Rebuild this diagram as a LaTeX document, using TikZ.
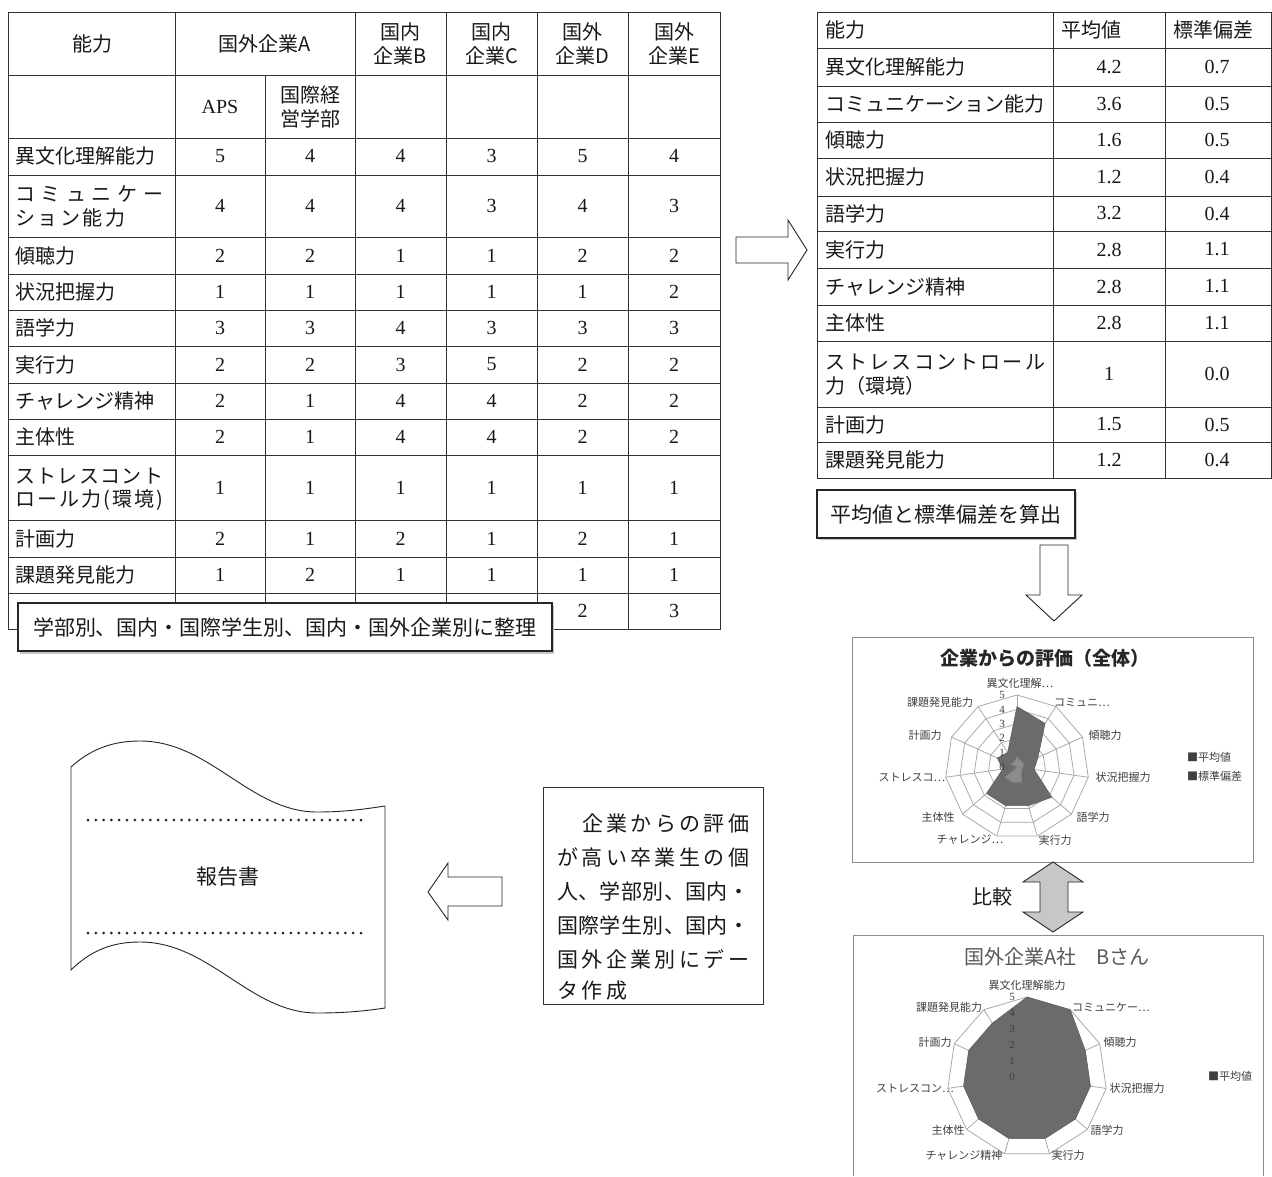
\documentclass[tikz,border=0pt]{standalone}
\usepackage{fontspec}
\setmainfont{Liberation Serif}
\newfontfamily\jp{Noto Sans CJK JP}
\def\sprnext#1{\ifx#1\relax\else\hfill#1\expandafter\sprnext\fi}
\def\sprfirst#1{#1\sprnext}
\newcommand\spreadline[2]{\makebox[#1][s]{\sprfirst#2\relax}}
\newcommand\radargrid[3]{%
  \foreach \l in {1,...,5} {\draw[rgrid] plot[samples at={0,...,10}] ({#1+\l*#3*cos(-90+\x*360/11)},{#2+\l*#3*sin(-90+\x*360/11)}) -- cycle;}
  \foreach \k in {0,...,10} {\draw[rgrid] (#1,#2) -- ({#1+5*#3*cos(-90+\k*360/11)},{#2+5*#3*sin(-90+\k*360/11)});}
}
\begin{document}
\begin{tikzpicture}[x=1pt,y=-1pt,
  tl/.style={line width=0.9pt,draw=black!80},
  jt/.style={font=\jp\fontsize{20}{24}\selectfont,inner sep=0pt,text=black!90},
  jtl/.style={font=\jp\fontsize{21}{25}\selectfont,inner sep=0pt,text=black!90},
  nt/.style={font=\fontsize{20}{24}\selectfont,inner sep=0pt,text=black!90},
  thickbox/.style={draw=black!85,line width=1.8pt,fill=white},
  boxshadow/.style={fill=black!22},
  hollowarrow/.style={draw=black!85,line width=0.9pt,fill=white,line join=miter},
  rgrid/.style={draw=black!35,line width=0.75pt},
  chartbox/.style={draw=black!45,line width=1pt},
  lab/.style={font=\jp\fontsize{11}{13}\selectfont,inner sep=0pt,text=black!75},
  sclab/.style={font=\fontsize{11}{13}\selectfont,inner sep=0pt,text=black!75},
  meanfill/.style={fill=black!58,draw=black!62,line width=0.6pt},
  sdfill/.style={fill=black!45,draw=black!50,line width=0.6pt},
  dotline/.style={line width=3pt,line cap=round,dash pattern=on 0pt off 7.8pt,draw=black!85}
]
\useasboundingbox (0,0) rectangle (1272,1176);
\fill[white] (0,0) rectangle (1272,1176);

% ---------------- left table ----------------
\draw[tl] (8,12) rectangle (720,629);
\foreach \yy in {75,138,175,237,274,310,346,383,419,455,520,557,593} \draw[tl] (8,\yy) -- (720,\yy);
\draw[tl] (175,12) -- (175,629);
\draw[tl] (265,75) -- (265,629);
\foreach \xx in {355,446,537,628} \draw[tl] (\xx,12) -- (\xx,629);

\node[jt] (lhab) at (92,44) {能力};
\node[jt] (lhA) at (265,44) {国外企業A};
\node[jt,align=center] (lhB) at (400.5,44) {国内\\企業B};
\node[jt,align=center] (lhC) at (491.5,44) {国内\\企業C};
\node[jt,align=center] (lhD) at (582.5,44) {国外\\企業D};
\node[jt,align=center] (lhE) at (674,44) {国外\\企業E};
\node[nt] (lhaps) at (220,107) {APS};
\node[jt,align=center] (lhkk) at (310,107) {国際経\\営学部};

\foreach \yy/\lab/\a/\b/\c/\d/\e/\f in {
 156/異文化理解能力/5/4/4/3/5/4,
 255.5/傾聴力/2/2/1/1/2/2,
 292/状況把握力/1/1/1/1/1/2,
 328/語学力/3/3/4/3/3/3,
 364.5/実行力/2/2/3/5/2/2,
 401/チャレンジ精神/2/1/4/4/2/2,
 437/主体性/2/1/4/4/2/2,
 538.5/計画力/2/1/2/1/2/1,
 575/課題発見能力/1/2/1/1/1/1}
{
 \node[jt,anchor=west] at (15,\yy) {\lab};
 \foreach \v/\xx in {\a/220,\b/310,\c/400.5,\d/491.5,\e/582.5,\f/674} \node[nt] at (\xx,\yy) {\v};
}
\node[jt,anchor=west] (lcom1) at (15,194) {\spreadline{148pt}{コミュニケー}};
\node[jt,anchor=west] (lcom2) at (15,218) {\spreadline{110pt}{ション能力}};
\foreach \v/\xx in {4/220,4/310,4/400.5,3/491.5,4/582.5,3/674} \node[nt] at (\xx,206) {\v};
\node[jt,anchor=west] (lstr1) at (15,476) {\spreadline{148pt}{ストレスコント}};
\node[jt,anchor=west] (lstr2) at (15,500) {\spreadline{148pt}{ロール力(環境)}};
\foreach \xx in {220,310,400.5,491.5,582.5,674} \node[nt] at (\xx,487.5) {1};
\node[nt] (llastD) at (582.5,611) {2};
\node[nt] (llastE) at (674,611) {3};

% box over the table
\fill[boxshadow] (20,605) rectangle (554,654);
\draw[thickbox] (18,603) rectangle (552,651);
\node[jtl] (seiri) at (285,627) {学部別、国内・国際学生別、国内・国外企業別に整理};

% right arrow
\draw[hollowarrow] (736,237) -- (788,237) -- (788,220) -- (807,250) -- (788,280) -- (788,263) -- (736,263) -- cycle;

% ---------------- right table ----------------
\draw[tl] (817,12) rectangle (1271,478);
\foreach \yy in {48,86,122,158,196,231,268,305,341,407,442} \draw[tl] (817,\yy) -- (1271,\yy);
\draw[tl] (1053,12) -- (1053,478);
\draw[tl] (1165,12) -- (1165,478);
\node[jt,anchor=west] (rh1) at (825,30) {能力};
\node[jt,anchor=west] (rh2) at (1061,30) {平均値};
\node[jt,anchor=west] (rh3) at (1173,30) {標準偏差};
\foreach \yy/\lab/\a/\b in {67/異文化理解能力/4.2/0.7, 104/コミュニケーション能力/3.6/0.5, 140/傾聴力/1.6/0.5, 177/状況把握力/1.2/0.4, 213.5/語学力/3.2/0.4, 249.5/実行力/2.8/1.1, 286.5/チャレンジ精神/2.8/1.1, 323/主体性/2.8/1.1, 424.5/計画力/1.5/0.5, 460/課題発見能力/1.2/0.4}
{
 \node[jt,anchor=west] at (825,\yy) {\lab};
 \node[nt] at (1109,\yy) {\a};
 \node[nt] at (1217,\yy) {\b};
}
\node[jt,anchor=west] (rstr1) at (825,362) {\spreadline{220pt}{ストレスコントロール}};
\node[jt,anchor=west] (rstr2) at (825,386) {力（環境）};
\node[nt] at (1109,374) {1};
\node[nt] at (1217,374) {0.0};

\fill[boxshadow] (819,492) rectangle (1077,540);
\draw[thickbox] (817,490) rectangle (1075,538);
\node[jtl] (sanshutsu) at (946,514) {平均値と標準偏差を算出};

% down arrow
\draw[hollowarrow] (1040,545) -- (1068,545) -- (1068,595) -- (1082,595) -- (1054,621) -- (1026,595) -- (1040,595) -- cycle;

% ---------------- chart 1 ----------------
\draw[chartbox] (852,637) rectangle (1253,862);
\node[font=\jp\bfseries\fontsize{19}{22}\selectfont,inner sep=0pt,text=black!85] (c1title) at (1045,658) {企業からの評価（全体）};
\radargrid{1017}{767}{14.4}
\foreach \v [count=\k from 0] in {4.2,3.6,1.6,1.2,3.2,2.8,2.8,2.8,1,1.5,1.2}
  \coordinate (ma\k) at ({1017+14.4*\v*cos(-90+\k*360/11)},{767+14.4*\v*sin(-90+\k*360/11)});
\foreach \v [count=\k from 0] in {0.7,0.5,0.5,0.4,0.4,1.1,1.1,1.1,0.0,0.5,0.4}
  \coordinate (sa\k) at ({1017+14.4*\v*cos(-90+\k*360/11)},{767+14.4*\v*sin(-90+\k*360/11)});
\filldraw[meanfill] (ma0) \foreach \k in {1,...,10}{ -- (ma\k)} -- cycle;
\filldraw[sdfill] (sa0) \foreach \k in {1,...,10}{ -- (sa\k)} -- cycle;
\foreach \n in {0,...,5} \node[sclab] at (1002,{767-14.4*\n}) {\n};
\node[lab] at (1020,683) {異文化理解…};
\node[lab] at (1082,702) {コミュニ…};
\node[lab] at (1105,735) {傾聴力};
\node[lab] at (1123,777) {状況把握力};
\node[lab] at (1093,817) {語学力};
\node[lab] at (1055,840) {実行力};
\node[lab] at (970,840) {チャレンジ…};
\node[lab] at (938,817) {主体性};
\node[lab] at (912,777) {ストレスコ…};
\node[lab] at (925,735) {計画力};
\node[lab] at (940,702) {課題発見能力};
\node[lab,anchor=west] (leg1) at (1187,757) {■平均値};
\node[lab,anchor=west] (leg2) at (1187,776) {■標準偏差};

% double arrow
\draw[draw=black!85,line width=0.9pt,fill=black!22,line join=miter] (1053,862) -- (1083,882) -- (1068,882) -- (1068,912) -- (1083,912) -- (1053,932) -- (1023,912) -- (1040,912) -- (1040,882) -- (1023,882) -- cycle;
\node[jt] (hikaku) at (992,897) {比較};

% ---------------- chart 2 ----------------
\draw[chartbox] (853,1176) -- (853,935) -- (1263,935) -- (1263,1176);
\node[font=\jp\fontsize{20}{24}\selectfont,inner sep=0pt,text=black!65] (c2title) at (1057,957) {国外企業A社　Bさん};
\radargrid{1027}{1077}{16}
\foreach \v [count=\k from 0] in {5,5,4,4,4,4,4,4,4,4,4}
  \coordinate (mb\k) at ({1027+16*\v*cos(-90+\k*360/11)},{1077+16*\v*sin(-90+\k*360/11)});
\filldraw[meanfill] (mb0) \foreach \k in {1,...,10}{ -- (mb\k)} -- cycle;
\foreach \n in {0,...,5} \node[sclab] at (1012,{1077-16*\n}) {\n};
\node[lab] at (1027,985) {異文化理解能力};
\node[lab] at (1111,1007) {コミュニケー…};
\node[lab] at (1120,1042) {傾聴力};
\node[lab] at (1137,1088) {状況把握力};
\node[lab] at (1107,1130) {語学力};
\node[lab] at (1068,1155) {実行力};
\node[lab] at (964,1155) {チャレンジ精神};
\node[lab] at (948,1130) {主体性};
\node[lab] at (915,1088) {ストレスコン…};
\node[lab] at (935,1042) {計画力};
\node[lab] at (949,1007) {課題発見能力};
\node[lab,anchor=west] (leg3) at (1208,1076) {■平均値};

% ---------------- report document ----------------
\draw[line width=0.9pt,draw=black!85,fill=white]
  (71,767) .. controls (95,745) and (120,741) .. (140,741)
  .. controls (210,741) and (250,812) .. (317,812)
  .. controls (345,812) and (365,809) .. (385,806)
  -- (385,1008)
  .. controls (365,1011) and (345,1013) .. (317,1013)
  .. controls (250,1013) and (210,942) .. (140,942)
  .. controls (120,942) and (95,946) .. (71,970) -- cycle;
\draw[dotline] (88,820) -- (368,820);
\draw[dotline] (88,933) -- (368,933);
\node[jtl] (report) at (228,877) {報告書};

% left arrow
\draw[hollowarrow] (502,877) -- (448,877) -- (448,863) -- (428,892) -- (448,920) -- (448,906) -- (502,906) -- cycle;

% text box
\draw[line width=1pt,draw=black!80] (543,787) rectangle (763,1004);
\node[jtl,anchor=west] (t1) at (582,823) {\spreadline{167pt}{企業からの評価}};
\node[jtl,anchor=west] (t2) at (557,857) {\spreadline{192pt}{が高い卒業生の個}};
\node[jtl,anchor=west] (t3) at (557,891) {\spreadline{192pt}{人、学部別、国内・}};
\node[jtl,anchor=west] (t4) at (557,925) {\spreadline{192pt}{国際学生別、国内・}};
\node[jtl,anchor=west] (t5) at (557,959) {\spreadline{192pt}{国外企業別にデー}};
\node[jtl,anchor=west] (t6) at (557,991) {\spreadline{70pt}{タ作成}};
\end{tikzpicture}
\end{document}
